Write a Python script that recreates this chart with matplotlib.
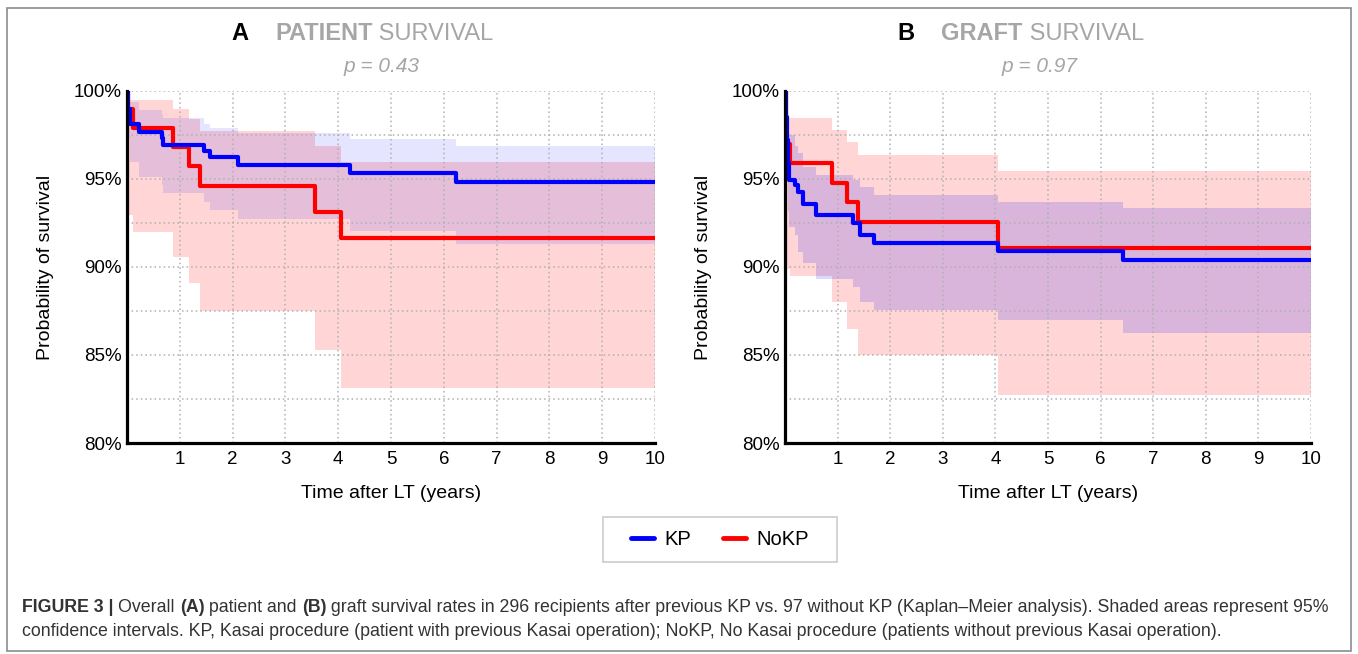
import matplotlib
matplotlib.use("Agg")
import matplotlib.pyplot as plt
from matplotlib.lines import Line2D
from matplotlib.patches import Rectangle

plt.rcParams['font.family'] = ['Liberation Sans', 'DejaVu Sans']

# Panel A - patient survival (years, % survival, 95% CI)
a_kp_t = [0, 0.01, 0.05, 0.22, 0.66, 0.69, 1.45, 1.57, 2.11, 4.22, 6.24, 10]
a_kp_s = [100, 99.0, 98.1, 97.69, 97.31, 96.93, 96.61, 96.23, 95.80, 95.32, 94.81, 94.81]
a_kp_hi = [100, 99.9, 99.4, 98.9, 98.64, 98.45, 98.15, 97.9, 97.6, 97.28, 96.9, 96.9]
a_kp_lo = [100, 97.3, 95.98, 95.13, 94.66, 94.19, 93.71, 93.24, 92.73, 92.06, 91.3, 91.3]

a_nokp_t = [0, 0.02, 0.12, 0.88, 1.17, 1.38, 3.56, 4.05, 10]
a_nokp_s = [100, 99.0, 97.9, 96.84, 95.75, 94.6, 93.14, 91.67, 91.67]
a_nokp_hi = [100, 99.5, 99.5, 99.0, 98.4, 97.7, 96.9, 95.98, 95.98]
a_nokp_lo = [100, 92.95, 92.0, 90.55, 89.07, 87.5, 85.28, 83.1, 83.1]

# Panel B - graft survival
b_kp_t = [0, 0.01, 0.03, 0.05, 0.08, 0.19, 0.25, 0.35, 0.59, 1.30, 1.43, 1.69, 4.05, 6.42, 10]
b_kp_s = [100, 98.5, 97.2, 95.9, 94.94, 94.66, 94.28, 93.58, 92.95, 92.52, 91.82, 91.38, 90.93, 90.40, 90.40]
b_kp_hi = [100, 99.8, 99.2, 98.3, 97.5, 96.9, 96.46, 95.7, 95.23, 94.94, 94.56, 94.09, 93.71, 93.33, 93.33]
b_kp_lo = [100, 97.0, 95.0, 93.2, 92.3, 91.82, 90.87, 90.2, 89.3, 88.88, 88.03, 87.56, 86.99, 86.27, 86.27]

b_nokp_t = [0, 0.02, 0.10, 0.89, 1.17, 1.39, 4.05, 10]
b_nokp_s = [100, 97.0, 95.93, 94.79, 93.71, 92.57, 91.06, 91.06]
b_nokp_hi = [100, 98.45, 98.45, 97.78, 97.12, 96.36, 95.45, 95.45]
b_nokp_lo = [100, 89.9, 89.47, 88.03, 86.5, 85.0, 82.73, 82.73]

groups = ['KP', 'NoKP']
colors = {'KP': '#0000ff', 'NoKP': '#ff0000'}
y_ticks = [80, 85, 90, 95, 100]
x_ticks = list(range(1, 11))

W, H = 1358, 654
fig = plt.figure(figsize=(W / 100, H / 100), dpi=100)
renderer = fig.canvas.get_renderer()


def px_w(txt, **props):
    # width in figure fraction, trailing spaces included
    t1 = fig.text(0, 0, txt + 'x', **props)
    t2 = fig.text(0, 0, 'x', **props)
    w = t1.get_window_extent(renderer).width - t2.get_window_extent(renderer).width
    t1.remove()
    t2.remove()
    return w / W


def put_pieces(x, y, pieces, center=False):
    widths = [px_w(t, **p) for t, p in pieces]
    if center:
        x = x - sum(widths) / 2
    for (t, p), w in zip(pieces, widths):
        fig.text(x, y, t, va='baseline', **p)
        x += w


def panel(rect, data, blue_alpha, letter, word, pval, title_cx):
    ax = fig.add_axes(rect)
    (kt, ks, khi, klo), (nt, ns, nhi, nlo) = data
    ax.fill_between(nt, nlo, nhi, step='post', color=colors['NoKP'], alpha=0.165, lw=0, zorder=1)
    ax.fill_between(kt, klo, khi, step='post', color=colors['KP'], alpha=blue_alpha, lw=0, zorder=1.1)
    ax.step(kt, ks, where='post', color=colors['KP'], lw=3, zorder=3)
    ax.step(nt, ns, where='post', color=colors['NoKP'], lw=3, zorder=2.9)
    ax.set_xlim(0, 10)
    ax.set_ylim(80, 100)
    ax.set_yticks(y_ticks)
    ax.set_yticklabels([f'{v}%' for v in y_ticks])
    ax.set_yticks([82.5, 87.5, 92.5, 97.5], minor=True)
    ax.set_xticks(x_ticks)
    ax.tick_params(which='both', length=0, labelsize=13.5, pad=6)
    ax.tick_params(axis='y', pad=4)
    ax.set_axisbelow('line')
    ax.grid(which='both', color='#b0b0b0', linestyle=(0, (1, 2)), lw=1.1)
    for s in ['top', 'right']:
        ax.spines[s].set_visible(False)
    for s in ['left', 'bottom']:
        ax.spines[s].set_linewidth(2.3)
        ax.spines[s].set_zorder(4)
    ax.set_xlabel('Time after LT (years)', fontsize=14, labelpad=12)
    ax.set_ylabel('Probability of survival', fontsize=14, labelpad=14)
    put_pieces(title_cx, 1 - 40 / H,
               [(letter + '    ', dict(fontsize=17, fontweight='bold', color='black')),
                (word, dict(fontsize=17, fontweight='bold', color='#a6a6a6')),
                (' SURVIVAL', dict(fontsize=17, color='#a6a6a6'))], center=True)
    fig.text(title_cx + 19 / W, 1 - 72 / H, pval, fontsize=15, style='italic',
             color='#a6a6a6', ha='center', va='baseline')
    return ax


bot = (H - 443) / H
hgt = 352 / H
panel([127 / W, bot, 528 / W, hgt],
      [(a_kp_t, a_kp_s, a_kp_hi, a_kp_lo), (a_nokp_t, a_nokp_s, a_nokp_hi, a_nokp_lo)],
      0.10, 'A', 'PATIENT', 'p = 0.43', 363 / W)
panel([785 / W, bot, 526 / W, hgt],
      [(b_kp_t, b_kp_s, b_kp_hi, b_kp_lo), (b_nokp_t, b_nokp_s, b_nokp_hi, b_nokp_lo)],
      0.15, 'B', 'GRAFT', 'p = 0.97', 1021 / W)

# legend: frameless entries inside a hand-placed box
handles = [Line2D([0], [0], color=colors[g], lw=3.5, solid_capstyle='round') for g in groups]
fig.legend(handles, groups, loc='center', bbox_to_anchor=(720 / W, 1 - 539.5 / H),
           ncol=2, fontsize=14.5, frameon=False,
           handlelength=1.15, columnspacing=1.6, handletextpad=0.5)
fig.patches.append(Rectangle((603 / W, 1 - 562 / H), 234 / W, 45 / H, transform=fig.transFigure,
                             fill=False, edgecolor='#cccccc', lw=1.2))

# caption
cap = dict(fontsize=12.8, color='#333333')
capb = dict(fontsize=12.8, color='#333333', fontweight='bold')
put_pieces(22 / W, 1 - 612 / H,
           [('FIGURE 3 | ', capb), ('Overall ', cap), ('(A)', capb), (' patient and ', cap),
            ('(B)', capb),
            (' graft survival rates in 296 recipients after previous KP vs. 97 without KP '
             '(Kaplan\u2013Meier analysis). Shaded areas represent 95%', cap)])
put_pieces(22 / W, 1 - 636 / H,
           [('confidence intervals. KP, Kasai procedure (patient with previous Kasai operation); '
             'NoKP, No Kasai procedure (patients without previous Kasai operation).', cap)])

# outer frame
fig.patches.append(Rectangle((7 / W, 3 / H), 1344 / W, 643 / H, transform=fig.transFigure,
                             fill=False, edgecolor='#8c8c8c', lw=1.2))

fig.savefig('out.png', dpi=100)
